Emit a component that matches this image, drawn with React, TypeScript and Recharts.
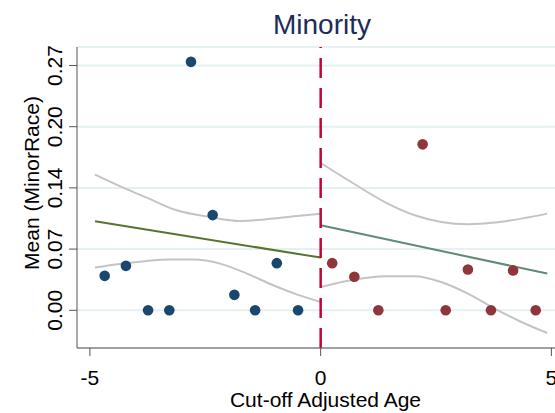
import { CartesianGrid, ComposedChart, Line, ReferenceLine, Scatter, XAxis, YAxis } from "recharts";

// binned means, left of the cut-off
const leftAge = [-4.68, -4.22, -3.74, -3.28, -2.81, -2.34, -1.87, -1.42, -0.95, -0.49];
const leftMean = [0.038, 0.049, 0, 0, 0.274, 0.105, 0.017, 0, 0.052, 0];

// binned means, right of the cut-off
const rightAge = [0.25, 0.73, 1.25, 2.21, 2.71, 3.19, 3.69, 4.17, 4.66];
const rightMean = [0.052, 0.037, 0, 0.183, 0, 0.045, 0, 0.044, 0];

// linear fits
const leftFitAge = [-4.89, 0];
const leftFitMean = [0.0982, 0.0581];
const rightFitAge = [0, 4.91];
const rightFitMean = [0.0937, 0.0405];

// confidence bands
const leftUpperAge = [-4.89, -4.28, -3.77, -3.12, -2.4, -1.75, -1.17, -0.52, 0];
const leftUpper = [0.1497, 0.1353, 0.1243, 0.1103, 0.1029, 0.0985, 0.1004, 0.104, 0.1066];
const leftLowerAge = [-4.89, -4.28, -3.77, -3.27, -2.76, -2.18, -1.6, -1.03, -0.52, 0];
const leftLower = [0.0471, 0.0515, 0.0544, 0.0559, 0.0559, 0.0515, 0.0405, 0.0276, 0.0176, 0.0092];
const rightBandAge = [0, 0.66, 1.39, 2.04, 2.61, 3.19, 3.77, 4.35, 4.91];
const rightUpper = [0.1625, 0.1415, 0.1194, 0.1048, 0.0974, 0.0949, 0.0967, 0.1011, 0.1066];
const rightLower = [0.0257, 0.0331, 0.0375, 0.0375, 0.0312, 0.0184, 0.0019, -0.0129, -0.025];

const xTicks = [-5, 0, 5];
const yTicks = [0, 0.0675, 0.135, 0.2025, 0.27];
const yTickLabels = ["0.00", "0.07", "0.14", "0.20", "0.27"];

const pts = (xs: number[], ys: number[]) => xs.map((x, i) => ({ x, y: ys[i] }));

const FONT = "'Liberation Sans', Arial, sans-serif";

const XTick = (props: any) => (
  <text x={props.x} y={385} textAnchor="middle" fontSize={21} fontFamily={FONT} fill="#000">
    {props.payload.value}
  </text>
);

const YTick = (props: any) => {
  const i = yTicks.indexOf(props.payload.value);
  return (
    <text
      x={62}
      y={props.y}
      transform={`rotate(-90 62 ${props.y})`}
      textAnchor="middle"
      fontSize={21}
      fontFamily={FONT}
      fill="#000"
    >
      {yTickLabels[i]}
    </text>
  );
};

const dot = (color: string) => (props: any) => <circle cx={props.cx} cy={props.cy} r={5.3} fill={color} />;

export default function App() {
  return (
    <div style={{ position: "absolute", left: 0, top: 0, width: 555, height: 413 }}>
      <ComposedChart width={555} height={413} margin={{ top: 47, right: 0, bottom: 0, left: 0 }}>
        <CartesianGrid vertical={false} stroke="#e6eff1" strokeWidth={2} />
        <XAxis
          dataKey="x"
          type="number"
          domain={[-5.28, 5.078]}
          ticks={xTicks}
          interval={0}
          allowDataOverflow
          height={65}
          tickSize={8}
          tick={<XTick />}
          stroke="#555"
        />
        <YAxis
          dataKey="y"
          type="number"
          domain={[-0.0416, 0.2904]}
          ticks={yTicks}
          interval={0}
          allowDataOverflow
          width={77}
          tickSize={8}
          tick={<YTick />}
          stroke="#555"
        />
        <Line data={pts(leftUpperAge, leftUpper)} dataKey="y" type="monotone" stroke="#c4c4c4" strokeWidth={2} dot={false} isAnimationActive={false} />
        <Line data={pts(leftLowerAge, leftLower)} dataKey="y" type="monotone" stroke="#c4c4c4" strokeWidth={2} dot={false} isAnimationActive={false} />
        <Line data={pts(rightBandAge, rightUpper)} dataKey="y" type="monotone" stroke="#c4c4c4" strokeWidth={2} dot={false} isAnimationActive={false} />
        <Line data={pts(rightBandAge, rightLower)} dataKey="y" type="monotone" stroke="#c4c4c4" strokeWidth={2} dot={false} isAnimationActive={false} />
        <Scatter data={pts(leftAge, leftMean)} shape={dot("#1a476f")} isAnimationActive={false} />
        <Scatter data={pts(rightAge, rightMean)} shape={dot("#90353b")} isAnimationActive={false} />
        <Line data={pts(leftFitAge, leftFitMean)} dataKey="y" type="linear" stroke="#55752f" strokeWidth={2} dot={false} isAnimationActive={false} />
        <Line data={pts(rightFitAge, rightFitMean)} dataKey="y" type="linear" stroke="#5e8a76" strokeWidth={2} dot={false} isAnimationActive={false} />
        <ReferenceLine x={0} stroke="#c10534" strokeWidth={2.5} strokeDasharray="20 10" />
      </ComposedChart>
      <svg width={555} height={413} style={{ position: "absolute", left: 0, top: 0, pointerEvents: "none" }}>
        <text x={322} y={34} textAnchor="middle" fontSize={28} fontFamily={FONT} fill="#1c2c59">
          Minority
        </text>
        <text x={325.5} y={407} textAnchor="middle" fontSize={21} fontFamily={FONT} fill="#000">
          Cut-off Adjusted Age
        </text>
        <text x={39} y={183} transform="rotate(-90 39 183)" textAnchor="middle" fontSize={21} fontFamily={FONT} fill="#000">
          Mean (MinorRace)
        </text>
      </svg>
    </div>
  );
}
